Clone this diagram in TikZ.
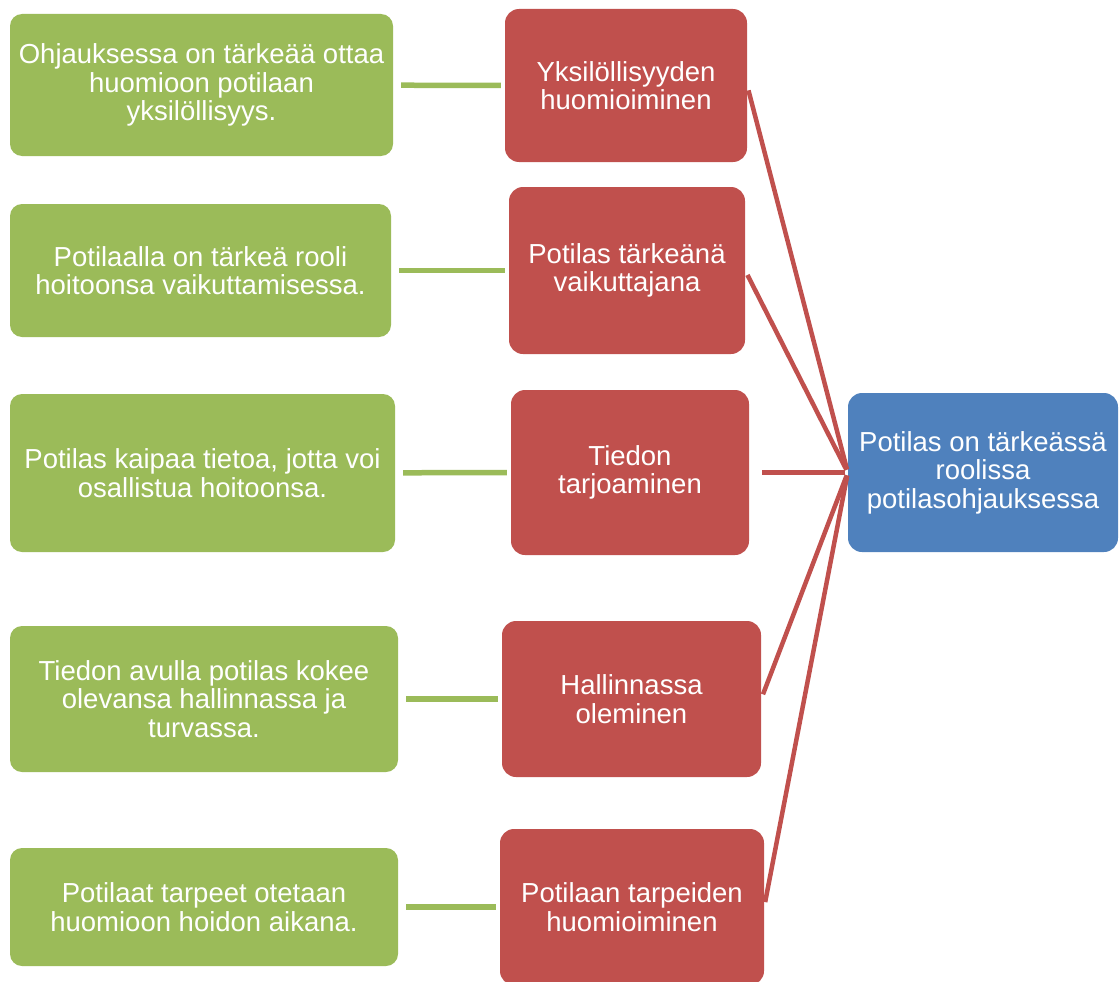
\documentclass[tikz,border=0pt]{standalone}
\usepackage{fontspec}
\setmainfont{Liberation Sans}
\usepackage{tikz}
\definecolor{leafgreen}{HTML}{9BBB59}
\definecolor{brickred}{HTML}{C0504D}
\definecolor{steelblue}{HTML}{4F81BD}

\begin{document}
\begin{tikzpicture}[
  x=1pt, y=-1pt,
  quote/.style={rectangle, fill=leafgreen, rounded corners=12pt, inner sep=0pt, text=white, align=center, font=\fontsize{27.5}{28.5}\selectfont},
  theme/.style={rectangle, fill=brickred, rounded corners=14pt, inner sep=0pt, text=white, align=center, font=\fontsize{27.5}{28.5}\selectfont},
  core/.style={rectangle, fill=steelblue, rounded corners=14pt, inner sep=0pt, text=white, align=center, font=\fontsize{27.5}{28.5}\selectfont},
  gline/.style={draw=leafgreen, line width=5.5pt, shorten <=8pt, shorten >=4pt},
  rline/.style={draw=brickred, line width=4.5pt, shorten <=5pt, shorten >=3pt}
]
\clip (0,0) rectangle (1119,982);

%% Left column: quotes
\node[quote, minimum width=383pt, minimum height=142pt] (q1) at (201.5,85) {Ohjauksessa on tärkeää ottaa\\huomioon potilaan\\yksilöllisyys.};
\node[quote, minimum width=381pt, minimum height=133pt] (q2) at (200.5,270.5) {Potilaalla on tärkeä rooli\\hoitoonsa vaikuttamisessa.};
\node[quote, minimum width=385pt, minimum height=158pt] (q3) at (202.5,473) {Potilas kaipaa tietoa, jotta voi\\osallistua hoitoonsa.};
\node[quote, minimum width=388pt, minimum height=146pt] (q4) at (204,699) {Tiedon avulla potilas kokee\\olevansa hallinnassa ja\\turvassa.};
\node[quote, minimum width=388pt, minimum height=118pt] (q5) at (204,907) {Potilaat tarpeet otetaan\\huomioon hoidon aikana.};

%% Middle column: themes
\node[theme, minimum width=242pt, minimum height=153pt] (t1) at (626,85.5) {Yksilöllisyyden\\huomioiminen};
\node[theme, minimum width=236pt, minimum height=167pt] (t2) at (627,270.5) {Potilas tärkeänä\\vaikuttajana};
\node[theme, minimum width=238pt, minimum height=165pt] (t3) at (630,472.5) {Tiedon\\tarjoaminen};
\node[theme, minimum width=259pt, minimum height=156pt] (t4) at (631.5,699) {Hallinnassa\\oleminen};
\node[theme, minimum width=264pt, minimum height=156pt] (t5) at (632,907) {Potilaan tarpeiden\\huomioiminen};

%% Right: main category
\node[core, minimum width=270pt, minimum height=159pt] (main) at (983,472.5) {Potilas on tärkeässä\\roolissa\\potilasohjauksessa};

%% Quotes to themes
\draw[gline] (q1) -- (t1);
\draw[gline] (q2) -- (t2);
\draw[gline] (q3) -- (t3);
\draw[gline] (q4) -- (t4);
\draw[gline] (q5) -- (t5);

%% Themes to main category
\draw[rline] (t1.east) -- (main.west);
\draw[rline] (t2.east) -- (main.west);
\draw[rline, shorten <=13pt] (t3.east) -- (main.west);
\draw[rline] (t4.east) -- (main.west);
\draw[rline] (t5.east) -- (main.west);

\end{tikzpicture}
\end{document}
